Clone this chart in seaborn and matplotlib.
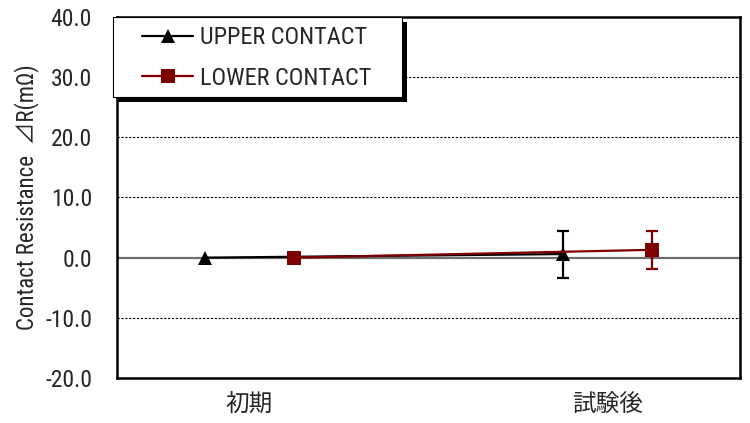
import numpy as np
import pandas as pd
import matplotlib
matplotlib.use("Agg")
import matplotlib.pyplot as plt
from matplotlib import font_manager
from matplotlib.lines import Line2D
from matplotlib.patches import Rectangle
import seaborn as sns

# data
categories = ["初期", "試験後"]
series = ["UPPER CONTACT", "LOWER CONTACT"]
upper_mean = [0.0, 0.6]
upper_err = [0.0, 3.9]
lower_mean = [0.0, 1.3]
lower_err = [0.0, 3.2]
y_ticks = [-20, -10, 0, 10, 20, 30, 40]

colors = {"UPPER CONTACT": "black", "LOWER CONTACT": "#7f0000"}
markers = {"UPPER CONTACT": "^", "LOWER CONTACT": "s"}
offsets = {"UPPER CONTACT": -0.123, "LOWER CONTACT": 0.123}

df = pd.DataFrame({
    "cat": categories * 2,
    "series": [series[0]] * 2 + [series[1]] * 2,
    "value": upper_mean + lower_mean,
    "err": upper_err + lower_err,
})
df["xpos"] = df["cat"].map({c: i for i, c in enumerate(categories)}) + df["series"].map(offsets)

sns.set_style("white")

# look for a narrow sans font, the original uses one
fonts = font_manager.fontManager.ttflist
names = {f.name for f in fonts}
stretch = "normal"
narrow = "Liberation Sans"
for cand in ["Liberation Sans Narrow", "Arial Narrow", "Roboto Condensed", "Open Sans Condensed"]:
    if cand in names:
        narrow = cand
        break
else:
    if any(f.name == "DejaVu Sans" and f.stretch == "condensed" for f in fonts):
        narrow = "DejaVu Sans"
        stretch = "condensed"
plt.rcParams["font.family"] = [narrow, "Noto Sans CJK JP", "DejaVu Sans"]
plt.rcParams["font.stretch"] = stretch

W, H = 750, 423
fig = plt.figure(figsize=(7.5, 4.23), dpi=100)
ax = fig.add_axes([117 / W, 1 - 378 / H, 623 / W, 361 / H])

# gridlines (dotted) and zero line
for yv in y_ticks:
    if yv in (-20, 40):
        continue
    if yv == 0:
        ax.axhline(0, color="#6e6e6e", lw=1.6, zorder=1)
    else:
        ax.axhline(yv, color="black", lw=0.8, ls=(0, (2, 1.5)), zorder=1)

sns.lineplot(data=df, x="xpos", y="value", hue="series", style="series",
             palette=colors, markers=markers, dashes=False, markersize=10,
             markeredgewidth=0, linewidth=1.6, legend=False, ax=ax, zorder=3)

for s in series:
    sub = df[(df["series"] == s) & (df["err"] > 0)]
    ax.errorbar(sub["xpos"], sub["value"], yerr=sub["err"], fmt="none",
                ecolor=colors[s], elinewidth=1.6, capsize=4.5, capthick=1.6, zorder=2)

ax.set_xlim(-0.37, 1.37)
ax.set_ylim(-20, 40)
ax.set_yticks(y_ticks)
ax.set_yticklabels([f"{v:.1f}" for v in y_ticks], fontsize=17)
ax.set_xticks(range(len(categories)))
ax.set_xticklabels(categories, fontsize=17, family=["Noto Sans CJK JP", "DejaVu Sans"])
ax.tick_params(length=0)
ax.tick_params(axis="y", pad=18)
ax.tick_params(axis="x", pad=11)
ax.set_xlabel("")
ax.set_ylabel("Contact Resistance  ⊿R(mΩ)", fontsize=16.5, labelpad=4,
              family=[narrow, "Noto Sans CJK JP", "DejaVu Sans"])
for side, sp in ax.spines.items():
    sp.set_visible(True)
    sp.set_color("black")
    sp.set_linewidth(1.8)

# legend box with a hard drop shadow, like the original
box = dict(transform=fig.transFigure, clip_on=False)
ax.add_patch(Rectangle((118 / W, 1 - 102 / H), 289 / W, 80 / H, facecolor="black",
                       edgecolor="none", zorder=4.4, **box))
ax.add_patch(Rectangle((113 / W, 1 - 97 / H), 289 / W, 80 / H, facecolor="white",
                       edgecolor="black", lw=0.8, zorder=4.6, **box))

handles = [Line2D([], [], color=colors[s], marker=markers[s], markersize=10,
                  markeredgewidth=0, lw=1.6) for s in series]
leg = ax.legend(handles, series, loc="center left", bbox_to_anchor=(142 / W, 1 - 58 / H),
                bbox_transform=fig.transFigure, borderaxespad=0, borderpad=0,
                frameon=False, handlelength=2.1, handletextpad=0.3, labelspacing=0.72,
                prop={"family": narrow, "size": 17.5, "stretch": stretch})
leg.set_zorder(5)

fig.savefig("out.png", dpi=100)
